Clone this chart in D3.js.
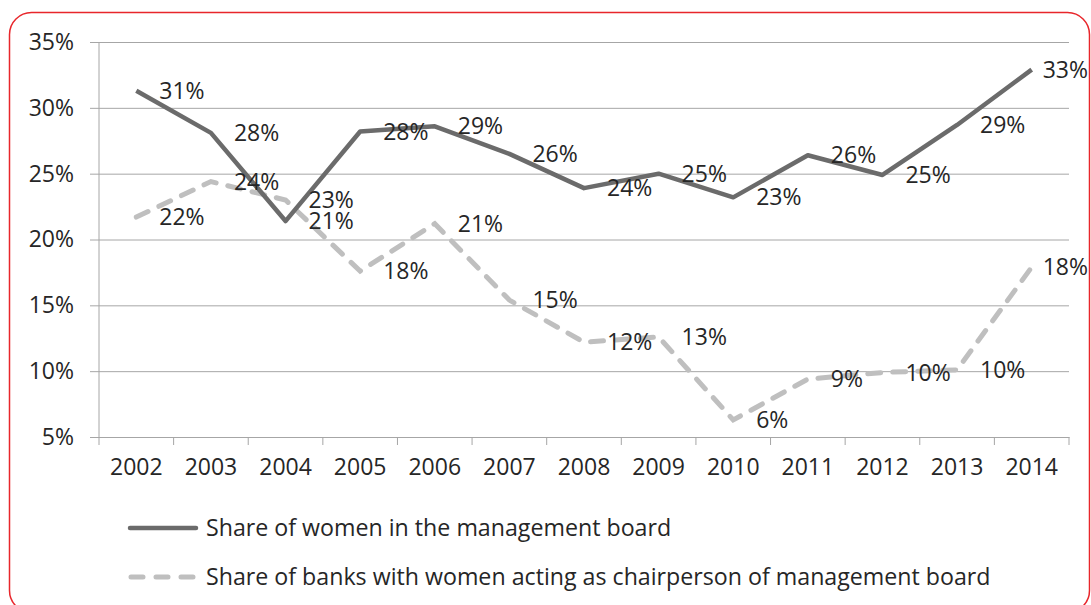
<!DOCTYPE html>
<html lang="en">
<head>
  <meta charset="UTF-8">
  <title>Women in management boards</title>
  <script src="https://d3js.org/d3.v7.min.js"></script>
  <style>
    body { margin: 0; background: #fff; }
    text { font-family: "Open Sans", sans-serif; fill: #262626; }
  </style>
</head>
<body>
  <svg width="1091" height="605"></svg>
  <script>
    const years = ["2002","2003","2004","2005","2006","2007","2008","2009","2010","2011","2012","2013","2014"];
    // share of women in the management board
    const boardShare = [0.313, 0.281, 0.214, 0.282, 0.286, 0.265, 0.239, 0.250, 0.232, 0.264, 0.249, 0.287, 0.329];
    const boardLabels = ["31%","28%","21%","28%","29%","26%","24%","25%","23%","26%","25%","29%","33%"];
    // share of banks with women acting as chairperson
    const chairShare = [0.217, 0.244, 0.230, 0.176, 0.212, 0.154, 0.122, 0.126, 0.063, 0.094, 0.099, 0.101, 0.179];
    const chairLabels = ["22%","24%","23%","18%","21%","15%","12%","13%","6%","9%","10%","10%","18%"];
    const yTicks = [0.05, 0.10, 0.15, 0.20, 0.25, 0.30, 0.35];
    const legendNames = ["Share of women in the management board",
                         "Share of banks with women acting as chairperson of management board"];

    const svg = d3.select("svg");
    const fs = "23px";

    // red rounded frame
    svg.append("rect")
      .attr("x", 9.5).attr("y", 12.5)
      .attr("width", 1080).attr("height", 600)
      .attr("rx", 22)
      .attr("fill", "none")
      .attr("stroke", "#e8262b")
      .attr("stroke-width", 1.5);

    const x = d3.scaleBand().domain(years).range([99, 1069]).padding(0);
    const y = d3.scaleLinear().domain([0.05, 0.35]).range([437, 42]);
    const cx = d => x(d) + x.bandwidth() / 2;

    // gridlines + y axis
    const yAxis = d3.axisLeft(y).tickValues(yTicks).tickSize(9).tickFormat(d3.format(".0%"));
    svg.append("g")
      .attr("transform", "translate(99,0)")
      .call(yAxis)
      .call(g => g.select(".domain").remove())
      .call(g => g.selectAll(".tick line").attr("stroke", "#a6a6a6").attr("x2", 1069 - 99).attr("x1", -9))
      .call(g => g.selectAll(".tick text").attr("x", -25).style("font-size", fs)
        .style("font-family", "'Open Sans', sans-serif").attr("fill", "#262626"));

    // vertical axis line
    svg.append("line")
      .attr("x1", 99).attr("x2", 99).attr("y1", 42).attr("y2", 437)
      .attr("stroke", "#a6a6a6");

    // x axis with ticks between categories
    const xAxis = d3.axisBottom(x).tickSize(0).tickPadding(22);
    const gx = svg.append("g")
      .attr("transform", "translate(0,437)")
      .call(xAxis)
      .call(g => g.select(".domain").attr("stroke", "#a6a6a6"))
      .call(g => g.selectAll(".tick text").style("font-size", fs)
        .style("font-family", "'Open Sans', sans-serif").attr("fill", "#262626"));
    gx.selectAll(".sep")
      .data(years.concat(["end"]))
      .enter().append("line")
      .attr("x1", (d, i) => i < years.length ? x(d) : x.range()[1])
      .attr("x2", (d, i) => i < years.length ? x(d) : x.range()[1])
      .attr("y1", 0).attr("y2", 8)
      .attr("stroke", "#a6a6a6");

    const line = d3.line().x((d, i) => cx(years[i])).y(d => y(d));

    svg.append("path")
      .attr("d", line(chairShare))
      .attr("fill", "none")
      .attr("stroke", "#bfbfbf")
      .attr("stroke-width", 5)
      .attr("stroke-dasharray", "13,12")
      .attr("stroke-linecap", "round");

    svg.append("path")
      .attr("d", line(boardShare))
      .attr("fill", "none")
      .attr("stroke", "#6b6b6b")
      .attr("stroke-width", 4.5)
      .attr("stroke-linejoin", "round");

    // data labels, right of each point (last one pulled in to fit)
    function labels(values, texts) {
      const last = values.length - 1;
      svg.append("g").selectAll("text")
        .data(values)
        .enter().append("text")
        .attr("x", (d, i) => cx(years[i]) + (i === last ? 11 : 23))
        .attr("y", d => y(d))
        .attr("dy", "0.35em")
        .style("font-size", fs)
        .text((d, i) => texts[i]);
    }
    labels(boardShare, boardLabels);
    labels(chairShare, chairLabels);

    // legend
    const legend = svg.append("g");
    const legY = [528, 577];
    legend.append("line")
      .attr("x1", 130).attr("x2", 196).attr("y1", legY[0]).attr("y2", legY[0])
      .attr("stroke", "#6b6b6b").attr("stroke-width", 4.5).attr("stroke-linecap", "round");
    legend.append("line")
      .attr("x1", 131).attr("x2", 196).attr("y1", legY[1]).attr("y2", legY[1])
      .attr("stroke", "#bfbfbf").attr("stroke-width", 5)
      .attr("stroke-dasharray", "12,13").attr("stroke-linecap", "round");
    legend.selectAll("text")
      .data(legendNames)
      .enter().append("text")
      .attr("x", 206)
      .attr("y", (d, i) => legY[i])
      .attr("dy", "0.35em")
      .style("font-size", "23.2px")
      .text(d => d);
  </script>
</body>
</html>
